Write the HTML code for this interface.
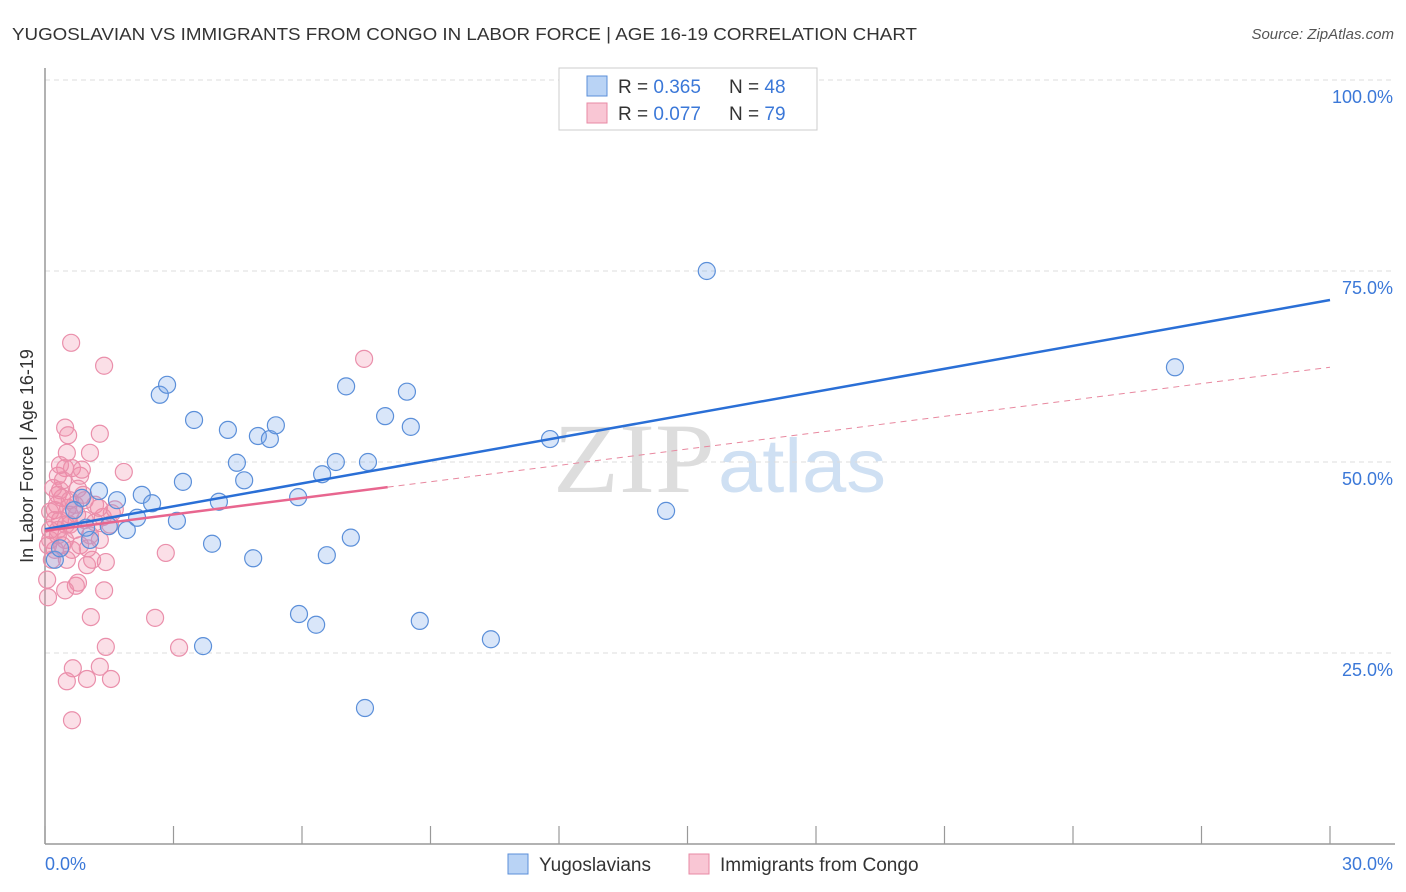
<!DOCTYPE html>
<html><head><meta charset="utf-8"><style>
body{margin:0;background:#fff;font-family:"Liberation Sans",sans-serif;}
svg{display:block}
</style></head><body>
<svg id="chart" width="1406" height="892">
<text x="12" y="40" font-size="17.5" fill="#333" textLength="905" lengthAdjust="spacingAndGlyphs">YUGOSLAVIAN VS IMMIGRANTS FROM CONGO IN LABOR FORCE | AGE 16-19 CORRELATION CHART</text>
<text x="1394" y="39" font-size="15" font-style="italic" fill="#555" text-anchor="end">Source: ZipAtlas.com</text>
<g>
<text x="553" y="492" font-size="100" font-family="Liberation Serif,serif" fill="#ddd" textLength="162" lengthAdjust="spacingAndGlyphs">ZIP</text>
<text x="718" y="492" font-size="76" fill="#cfe0f3" textLength="168" lengthAdjust="spacingAndGlyphs">atlas</text>
</g>
<g id="grid"></g>
<g id="axes"></g>
<g id="marks"></g>
<g>
<rect x="559" y="68" width="258" height="62" fill="#fff" stroke="#ccc"/>
<rect x="587" y="76" width="20" height="20" fill="#b9d3f5" stroke="#5b8fd9"/>
<text x="618" y="93" font-size="19" fill="#333">R = <tspan fill="#3b78d8">0.365</tspan></text>
<text x="729" y="93" font-size="19" fill="#333">N = <tspan fill="#3b78d8">48</tspan></text>
<rect x="587" y="103" width="20" height="20" fill="#f9c6d4" stroke="#e88aa5"/>
<text x="618" y="120" font-size="19" fill="#333">R = <tspan fill="#3b78d8">0.077</tspan></text>
<text x="729" y="120" font-size="19" fill="#333">N = <tspan fill="#3b78d8">79</tspan></text>
</g>
<g>
<rect x="508" y="854" width="20" height="20" fill="#b9d3f5" stroke="#5b8fd9"/>
<text x="539" y="871" font-size="19" fill="#333">Yugoslavians</text>
<rect x="689" y="854" width="20" height="20" fill="#f9c6d4" stroke="#e88aa5"/>
<text x="720" y="871" font-size="19" fill="#333">Immigrants from Congo</text>
</g>
</svg>
<script>
const blueX=[2.68,2.85,3.48,4.27,4.97,5.25,5.39,4.48,4.65,3.22,2.26,2.50,1.68,1.26,0.86,1.49,1.91,2.15,3.08,3.90,4.06,4.86,3.69,5.93,6.33,5.91,6.47,6.79,7.03,6.58,7.14,7.54,7.94,8.45,8.54,7.47,8.75,10.41,11.79,14.50,15.45,26.38,1.05,0.23,0.35,0.68,0.96,13.89];
const blueY=[58.8,60.1,55.5,54.2,53.4,53.0,54.8,49.9,47.6,47.4,45.7,44.6,45.0,46.2,45.3,41.6,41.1,42.7,42.3,39.3,44.8,37.4,25.9,30.1,28.7,45.4,48.4,50.0,59.9,37.8,40.1,50.0,56.0,59.2,54.6,17.8,29.2,26.8,53.0,43.6,75.0,62.4,39.8,37.2,38.7,43.7,41.4,100];
const pinkX=[0.61,1.38,7.45,0.47,0.54,1.28,1.05,0.51,1.84,0.47,0.63,0.30,0.35,0.77,0.82,0.89,0.40,0.54,0.70,0.23,0.12,0.35,0.58,0.93,1.17,1.35,1.56,0.12,0.30,0.47,0.07,0.23,0.63,1.05,1.28,0.98,1.42,0.77,0.72,0.47,1.38,1.07,2.57,2.82,0.07,1.42,3.13,0.65,1.28,0.51,0.98,1.54,0.63,0.30,0.42,0.23,0.12,0.40,0.16,0.05,0.82,0.70,1.17,1.52,1.63,0.28,0.58,0.93,1.10,0.51,0.86,0.35,0.19,0.75,0.49,1.00,1.26,0.30,0.58];
const pinkY=[65.6,62.6,63.5,54.5,53.5,53.7,51.2,51.2,48.7,49.2,49.2,48.2,46.3,46.5,48.2,45.7,45.3,44.0,44.4,43.7,43.5,42.4,41.8,42.4,42.1,42.8,43.3,41.1,40.4,39.8,39.1,38.5,38.5,40.4,39.8,36.5,36.9,34.2,33.8,33.2,33.2,29.7,29.6,38.1,32.3,25.8,25.7,23.0,23.2,21.3,21.6,21.6,16.2,45.7,47.6,42.4,39.8,39.1,37.2,34.6,39.1,41.1,44.4,41.8,43.8,44.4,43.1,45.0,37.2,37.2,49.0,49.6,46.6,43.1,41.8,38.7,44.0,41.1,45.0];
const blueTrend=[41.2,71.2];
const pinkTrend=[41.0,62.4];
const pinkSolidEnd=8;
const yTicks=[25,50,75,100];
const xTickVals=[0,3,6,9,12,15,18,21,24,27,30];
const NS='http://www.w3.org/2000/svg';
const X0=45,X1=1330,Y0=844,Y1=80;
const sx=v=>X0+(X1-X0)*v/30;
const sy=v=>Y0-(Y0-Y1)*v/100;
function mk(tag,attrs,parent){const e=document.createElementNS(NS,tag);for(const k in attrs)e.setAttribute(k,attrs[k]);parent.appendChild(e);return e;}
const grid=document.getElementById('grid'),axes=document.getElementById('axes'),marks=document.getElementById('marks');
yTicks.forEach(t=>{
  const l=mk('line',{x1:X0,x2:1395,y1:sy(t),y2:sy(t),stroke:'#ddd','stroke-dasharray':'5,4'},grid);
  
  
  const tx=mk('text',{x:1393,y:sy(t)+23,'font-size':18,fill:'#3b78d8','text-anchor':'end'},grid);
  tx.textContent=t.toFixed(1)+'%';
  
  
});
const ya=mk('line',{x1:X0,x2:X0,y1:68,y2:Y0,stroke:'#999','stroke-width':1.5},axes);


const xa=mk('line',{x1:X0,x2:1395,y1:Y0,y2:Y0,stroke:'#999','stroke-width':1.5},axes);


xTickVals.forEach(t=>{
  const l=mk('line',{x1:sx(t),x2:sx(t),y1:826,y2:Y0,stroke:'#999','stroke-width':1.2},axes);
  
  
});
const xl0=mk('text',{x:45,y:870,'font-size':18,fill:'#3b78d8'},axes);xl0.textContent='0.0%';


const xl1=mk('text',{x:1393,y:870,'font-size':18,fill:'#3b78d8','text-anchor':'end'},axes);xl1.textContent='30.0%';


const yt=mk('text',{x:0,y:0,'font-size':18,fill:'#333','text-anchor':'middle',transform:'translate(33,456) rotate(-90)'},axes);
yt.textContent='In Labor Force | Age 16-19';


pinkX.forEach((x,i)=>{
  const c=mk('circle',{cx:sx(x),cy:sy(pinkY[i]),r:8.5,fill:'rgba(242,140,170,0.28)',stroke:'#ea8fab','stroke-width':1.2},marks);
  
  
});
blueX.forEach((x,i)=>{
  const c=mk('circle',{cx:sx(x),cy:sy(blueY[i]),r:8.5,fill:'rgba(120,165,235,0.28)',stroke:'#5b8fd9','stroke-width':1.2},marks);
  
  
});
const bt=mk('line',{x1:sx(0),y1:sy(blueTrend[0]),x2:sx(30),y2:sy(blueTrend[1]),stroke:'#2a6fd6','stroke-width':2.5},marks);


const pAt=v=>pinkTrend[0]+(pinkTrend[1]-pinkTrend[0])*v/30;
const pt=mk('line',{x1:sx(0),y1:sy(pinkTrend[0]),x2:sx(pinkSolidEnd),y2:sy(pAt(pinkSolidEnd)),stroke:'#e8668f','stroke-width':2.5},marks);


const pd=mk('line',{x1:sx(pinkSolidEnd),y1:sy(pAt(pinkSolidEnd)),x2:sx(30),y2:sy(pinkTrend[1]),stroke:'#e8889f','stroke-width':1,'stroke-dasharray':'6,5'},marks);


</script>
</body></html>
